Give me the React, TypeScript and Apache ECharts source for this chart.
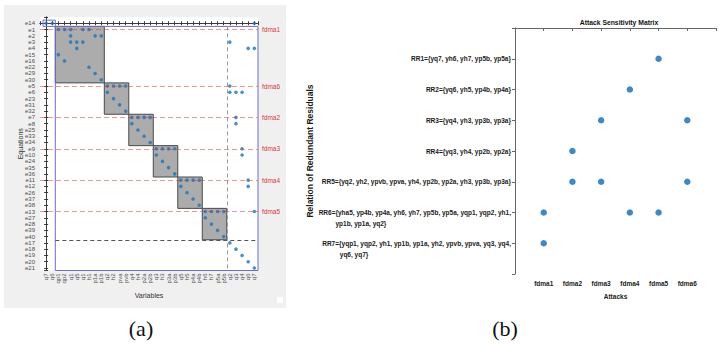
import React, { useEffect, useRef } from 'react';
import * as echarts from 'echarts';

// ---------- Panel (a): structural incidence matrix ----------
const equations = [
  'e14', 'e1', 'e2', 'e3', 'e4', 'e15', 'e16', 'e22', 'e29', 'e30',
  'e5', 'e6', 'e23', 'e31', 'e32', 'e7', 'e8', 'e25', 'e33', 'e34',
  'e9', 'e10', 'e24', 'e35', 'e36', 'e11', 'e12', 'e26', 'e37', 'e38',
  'e13', 'e27', 'e28', 'e39', 'e40', 'e17', 'e18', 'e19', 'e20', 'e21',
];

const variables = [
  'q7', 'q6', 'qp1', 'qp2', 'q1', 'q5', 'q1', 'h1', 'p1a', 'p1b',
  'q2', 'h2', 'pva', 'pvb', 'q4', 'h4', 'p2a', 'p2b', 'q3', 'h3',
  'p3a', 'p3b', 'q5', 'h5', 'p4a', 'p4b', 'h6', 'h7', 'p5a', 'p5b',
  'q2', 'q3', 'q4', 'q6', 'q7',
];

// variable (column) indices used by each equation, same order as `equations`
const incidence: number[][] = [
  [0, 1, 34], [2, 3, 4, 6, 7], [4, 8, 9], [4, 5, 6, 30], [5, 33, 34],
  [2], [3], [7], [8], [9],
  [10, 11, 12, 13, 30], [10, 30, 31, 32], [11], [12], [13],
  [14, 15, 16, 17, 31], [14, 31], [15], [16], [17],
  [18, 19, 20, 21, 32], [18, 32], [19], [20], [21],
  [22, 23, 24, 25, 33], [22, 33], [23], [24], [25],
  [26, 27, 28, 29, 34], [26], [27], [28], [29],
  [30], [31], [32], [33], [34],
];

const blockAttacks = ['fdma1', 'fdma6', 'fdma2', 'fdma3', 'fdma4', 'fdma5'];
const blockFirstEquation = ['e1', 'e5', 'e7', 'e9', 'e11', 'e13'];
const blockLastEquation = ['e30', 'e32', 'e34', 'e36', 'e38', 'e40'];
const blockFirstVariable = [2, 10, 14, 18, 22, 26];
const blockLastVariable = [9, 13, 17, 21, 25, 29];
const residualFirstEquation = 'e17';
const residualFirstVariable = 30;
const isolatedEquation = 'e14';

// ---------- Panel (b): attack sensitivity matrix ----------
const attacks = ['fdma1', 'fdma2', 'fdma3', 'fdma4', 'fdma5', 'fdma6'];
const relationLines: string[][] = [
  ['RR1={yq7, yh6, yh7, yp5b, yp5a}'],
  ['RR2={yq6, yh5, yp4b, yp4a}'],
  ['RR3={yq4, yh3, yp3b, yp3a}'],
  ['RR4={yq3, yh4, yp2b, yp2a}'],
  ['RR5={yq2, yh2, ypvb, ypva, yh4, yp2b, yp2a, yh3, yp3b, yp3a}'],
  ['RR6={yha5, yp4b, yp4a, yh6, yh7, yp5b, yp5a, yqp1, yqp2, yh1,', 'yp1b, yp1a, yq2}'],
  ['RR7={yqp1, yqp2, yh1, yp1b, yp1a, yh2, ypvb, ypva, yq3, yq4,', 'yq6, yq7}'],
];
const sensitivity: string[][] = [
  ['fdma5'],
  ['fdma4'],
  ['fdma3', 'fdma6'],
  ['fdma2'],
  ['fdma2', 'fdma3', 'fdma6'],
  ['fdma1', 'fdma4', 'fdma5'],
  ['fdma1'],
];

const SANS = '"Liberation Sans", Arial, Helvetica, sans-serif';
const NARROW = '"Liberation Sans Narrow", "Arial Narrow", "Liberation Sans", Arial, sans-serif';
const SERIF = '"Liberation Serif", "Times New Roman", serif';
const FRAME = '#3a3a3a';
const B_FONT = 6.5;

const AX_MIN = -1;
const AX_MAX = 34.6;
const AY_MIN = -1;
const AY_MAX = 39.4;

function intIndex(v: number): number | null {
  const r = Math.round(v);
  if (Math.abs(v - r) > 1e-6) return null;
  return r;
}

export default function App() {
  const ref = useRef<HTMLDivElement>(null);

  useEffect(() => {
    if (!ref.current) return;
    const chart = echarts.init(ref.current, null, { renderer: 'svg' });

    const rowOf = (name: string) => equations.indexOf(name);

    const dotsA: number[][] = [];
    incidence.forEach((cols, r) => cols.forEach((c) => dotsA.push([c, r])));

    const greyBlocks = blockAttacks.map((_, i) => [
      { coord: [blockFirstVariable[i] - 0.5, rowOf(blockFirstEquation[i]) - 0.5] },
      { coord: [blockLastVariable[i] + 0.5, rowOf(blockLastEquation[i]) + 0.5] },
    ]);

    const iso = rowOf(isolatedEquation);
    const isoCols = incidence[iso].filter((c) => c < blockFirstVariable[0]);
    const blueRects = [
      [
        { coord: [blockFirstVariable[0] - 0.5, rowOf(blockFirstEquation[0]) - 0.5] },
        { coord: [AX_MAX, AY_MAX] },
      ],
      [
        { coord: [Math.min(...isoCols) - 0.5, iso - 0.5] },
        { coord: [Math.max(...isoCols) + 0.5, iso + 0.5] },
      ],
    ];

    const redLines = blockAttacks.map((a, i) => ({
      yAxis: rowOf(blockFirstEquation[i]),
      label: { show: true, formatter: a },
    }));

    const resRow = rowOf(residualFirstEquation);
    const greyLines = [
      [
        { coord: [blockFirstVariable[0] - 0.5, resRow - 0.5] },
        { coord: [AX_MAX, resRow - 0.5] },
      ],
    ];
    const vLine = [
      [
        { coord: [residualFirstVariable - 0.5, rowOf(blockFirstEquation[0]) - 0.5] },
        { coord: [residualFirstVariable - 0.5, AY_MAX] },
      ],
    ];

    // panel b data
    const dotsB: number[][] = [];
    sensitivity.forEach((list, i) =>
      list.forEach((a) => dotsB.push([attacks.indexOf(a) + 1, i + 1]))
    );

    // build multi-line labels (second line indented from the left edge of the first)
    const canvas = document.createElement('canvas');
    const ctx = canvas.getContext('2d') as CanvasRenderingContext2D;
    ctx.font = `bold ${B_FONT}px ${NARROW}`;
    const nbsp = '\u00A0';
    const nbW = ctx.measureText(nbsp).width || 2;
    const relLabels = relationLines.map((lines) => {
      if (lines.length === 1) return lines[0];
      const w1 = ctx.measureText(lines[0]).width;
      const w2 = ctx.measureText(lines[1]).width;
      const indent = 17 * (w1 / 186);
      const n = Math.max(0, Math.round((w1 - indent - w2) / nbW));
      return '\n' + lines[0] + '\n' + lines[1] + nbsp.repeat(n);
    });

    const hiddenAxisA = {
      type: 'value',
      axisLabel: { show: false },
      axisLine: { show: true, lineStyle: { color: FRAME, width: 1 } },
      axisTick: { show: true, inside: true, length: 2, lineStyle: { color: FRAME } },
      splitLine: { show: false },
    };

    const option: any = {
      animation: false,
      backgroundColor: '#ffffff',
      graphic: {
        elements: [
          {
            type: 'rect',
            z: -100,
            silent: true,
            shape: { x: 4, y: 5, width: 282, height: 303 },
            style: { fill: '#f0f0f0' },
          },
          {
            type: 'rect',
            z: -99,
            silent: true,
            shape: { x: 277, y: 297, width: 6, height: 6 },
            style: { fill: '#ffffff' },
          },
        ],
      },
      title: [
        {
          text: 'Attack Sensitivity Matrix',
          left: 619,
          top: 18.5,
          padding: 0,
          textAlign: 'center',
          textStyle: { fontFamily: NARROW, fontWeight: 'bold', fontSize: 6.8, color: '#111' },
        },
        {
          text: '(a)',
          left: 141,
          top: 317,
          padding: 0,
          textAlign: 'center',
          textStyle: { fontFamily: SERIF, fontWeight: 'normal', fontSize: 22, color: '#111' },
        },
        {
          text: '(b)',
          left: 505,
          top: 317,
          padding: 0,
          textAlign: 'center',
          textStyle: { fontFamily: SERIF, fontWeight: 'normal', fontSize: 22, color: '#111' },
        },
      ],
      grid: [
        {
          left: 40,
          top: 17,
          width: 218,
          height: 253.5,
          show: true,
          backgroundColor: '#ffffff',
          borderWidth: 0,
        },
        {
          left: 515,
          top: 28,
          width: 214,
          height: 246,
        },
      ],
      xAxis: [
        {
          gridIndex: 0,
          type: 'value',
          position: 'bottom',
          min: AX_MIN,
          max: AX_MAX,
          interval: 1,
          axisLine: { show: true, lineStyle: { color: FRAME, width: 1 } },
          axisTick: { show: true, inside: true, length: 2, lineStyle: { color: FRAME } },
          splitLine: { show: false },
          axisLabel: {
            rotate: 90,
            fontSize: 6,
            fontFamily: SANS,
            color: '#4d4d4d',
            margin: 3,
            formatter: (v: number) => {
              const i = intIndex(v);
              return i !== null && i >= 0 && i < variables.length ? variables[i] : '';
            },
          },
          name: 'Variables',
          nameLocation: 'middle',
          nameGap: 21,
          nameMoveOverlap: false,
          nameTextStyle: { fontSize: 7, fontFamily: SANS, color: '#333' },
        },
        {
          ...hiddenAxisA,
          gridIndex: 0,
          position: 'top',
          min: AX_MIN,
          max: AX_MAX,
          interval: 1,
        },
        {
          gridIndex: 1,
          type: 'value',
          min: 0,
          max: 7,
          interval: 1,
          axisLine: { show: true, lineStyle: { color: '#666', width: 1 } },
          axisTick: { show: true, length: 3, lineStyle: { color: '#666' } },
          splitLine: { show: false },
          axisLabel: {
            fontSize: B_FONT,
            fontFamily: NARROW,
            fontWeight: 'bold',
            color: '#1a1a1a',
            margin: 6,
            formatter: (v: number) => {
              const i = intIndex(v);
              return i !== null && i >= 1 && i <= attacks.length ? attacks[i - 1] : '';
            },
          },
          name: 'Attacks',
          nameLocation: 'middle',
          nameGap: 19,
          nameMoveOverlap: false,
          nameTextStyle: { fontSize: B_FONT, fontFamily: NARROW, fontWeight: 'bold', color: '#1a1a1a' },
        },
      ],
      yAxis: [
        {
          gridIndex: 0,
          type: 'value',
          position: 'left',
          inverse: true,
          min: AY_MIN,
          max: AY_MAX,
          interval: 1,
          axisLine: { show: true, lineStyle: { color: FRAME, width: 1 } },
          axisTick: { show: true, inside: true, length: 2, lineStyle: { color: FRAME } },
          splitLine: { show: false },
          axisLabel: {
            fontSize: 6,
            fontFamily: SANS,
            color: '#4d4d4d',
            margin: 5,
            formatter: (v: number) => {
              const i = intIndex(v);
              return i !== null && i >= 0 && i < equations.length ? equations[i] : '';
            },
          },
          name: 'Equations',
          nameLocation: 'middle',
          nameGap: 16,
          nameMoveOverlap: false,
          nameTextStyle: { fontSize: 7, fontFamily: SANS, color: '#333' },
        },
        {
          ...hiddenAxisA,
          gridIndex: 0,
          position: 'right',
          inverse: true,
          min: AY_MIN,
          max: AY_MAX,
          interval: 1,
        },
        {
          gridIndex: 1,
          type: 'value',
          inverse: true,
          min: 0,
          max: 8,
          interval: 1,
          axisLine: { show: true, lineStyle: { color: '#666', width: 1 } },
          axisTick: { show: true, length: 3, lineStyle: { color: '#666' } },
          splitLine: { show: false },
          axisLabel: {
            fontSize: B_FONT,
            fontFamily: NARROW,
            fontWeight: 'bold',
            color: '#1a1a1a',
            lineHeight: 11,
            margin: 4,
            formatter: (v: number) => {
              const i = intIndex(v);
              return i !== null && i >= 1 && i <= relLabels.length ? relLabels[i - 1] : '';
            },
          },
          name: 'Relation of Redundant Residuals',
          nameLocation: 'middle',
          nameGap: 201,
          nameMoveOverlap: false,
          nameTextStyle: { fontSize: 8.5, fontFamily: SANS, fontWeight: 'bold', color: '#1a1a1a' },
        },
      ],
      series: [
        {
          type: 'scatter',
          xAxisIndex: 0,
          yAxisIndex: 0,
          data: [],
          z: 1,
          silent: true,
          markArea: {
            silent: true,
            label: { show: false },
            itemStyle: { color: '#acacac', borderColor: '#4a4a4a', borderWidth: 1 },
            data: greyBlocks,
          },
        },
        {
          type: 'scatter',
          xAxisIndex: 0,
          yAxisIndex: 0,
          data: [],
          z: 2,
          silent: true,
          markArea: {
            silent: true,
            label: { show: false },
            itemStyle: { color: 'rgba(0,0,0,0)', borderColor: '#6e6ec8', borderWidth: 1 },
            data: blueRects,
          },
          markLine: {
            silent: true,
            symbol: ['none', 'none'],
            label: { show: false },
            lineStyle: { color: '#555555', type: [4, 3], width: 1 },
            data: greyLines,
          },
        },
        {
          type: 'scatter',
          xAxisIndex: 0,
          yAxisIndex: 0,
          data: [],
          z: 2,
          silent: true,
          markLine: {
            silent: true,
            symbol: ['none', 'none'],
            label: { show: false },
            lineStyle: { color: '#9a9a9a', type: [4, 3], width: 1 },
            data: vLine,
          },
        },
        {
          type: 'scatter',
          xAxisIndex: 0,
          yAxisIndex: 0,
          data: dotsA,
          z: 3,
          symbolSize: 3.6,
          itemStyle: { color: '#1f74b8' },
        },
        {
          type: 'scatter',
          xAxisIndex: 0,
          yAxisIndex: 0,
          data: [],
          z: 4,
          silent: true,
          markLine: {
            silent: true,
            symbol: ['none', 'none'],
            lineStyle: { color: 'rgba(225,45,45,0.5)', type: [5, 3], width: 1.2 },
            label: {
              show: true,
              position: 'end',
              distance: 4,
              fontSize: 6.5,
              fontFamily: SANS,
              color: '#d43a3a',
            },
            data: redLines,
          },
        },
        {
          type: 'scatter',
          xAxisIndex: 2,
          yAxisIndex: 2,
          data: dotsB,
          symbolSize: 6.5,
          itemStyle: { color: '#1169b3' },
        },
      ],
    };

    chart.setOption(option);
    return () => chart.dispose();
  }, []);

  return (
    <div
      ref={ref}
      style={{ position: 'fixed', left: 0, top: 0, width: 719, height: 345 }}
    />
  );
}
